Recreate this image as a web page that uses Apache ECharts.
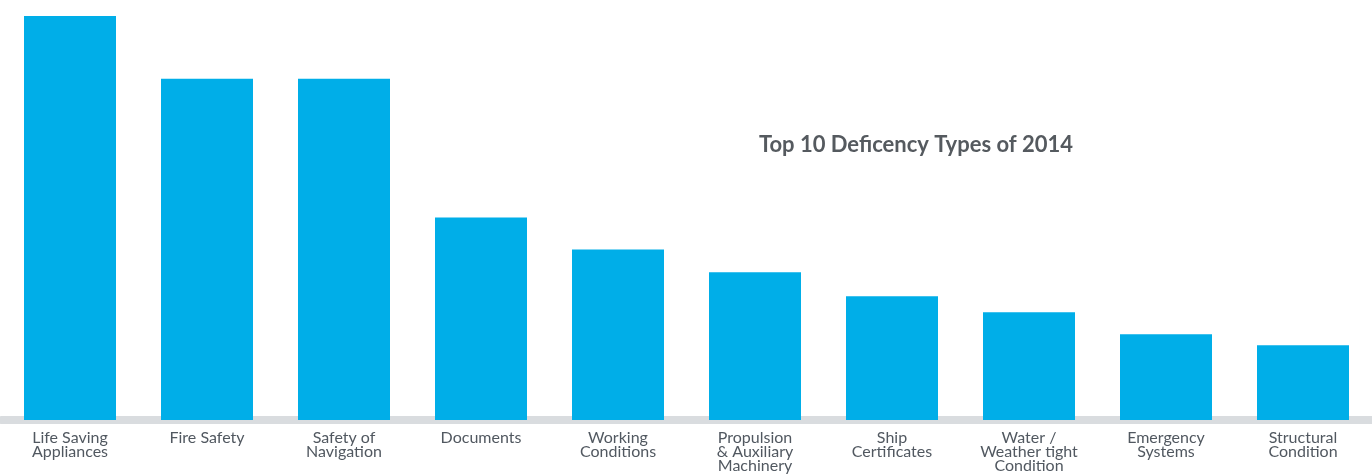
<!DOCTYPE html>
<html><head><meta charset="utf-8">
<script src="https://cdn.jsdelivr.net/npm/echarts@6/dist/echarts.min.js"></script>
<style>html,body{margin:0;padding:0;background:#fff}#c{width:1372px;height:474px}</style>
</head><body><div id="c"></div>
<script>
const categories = ['Life Saving\nAppliances','Fire Safety','Safety of\nNavigation','Documents','Working\nConditions','Propulsion\n& Auxiliary\nMachinery','Ship\nCertificates','Water /\nWeather tight\nCondition','Emergency\nSystems','Structural\nCondition'];
const values = [405, 342, 342, 203, 171, 148, 124, 108, 86, 75];
const titleText = 'Top 10 Deficency Types of 2014';

const chart = echarts.init(document.getElementById('c'));
chart.setOption({
  animation: false,
  title: {
    text: titleText, left: 911, top: 129, textAlign: 'center',
    textStyle: {fontFamily: 'Lato', fontWeight: 'bold', fontSize: 22, color: '#555a5f'}
  },
  grid: {left: 1.5, right: 0.5, top: 16, bottom: 53, containLabel: false},
  xAxis: {
    type: 'category', data: categories, offset: 4,
    axisLine: {lineStyle: {color: '#d9dcdf', width: 8}},
    axisTick: {show: false},
    axisLabel: {interval: 0, margin: 7, fontFamily: 'Lato', fontSize: 16, lineHeight: 14, color: '#515860'}
  },
  yAxis: {type: 'value', min: 0, max: 405, show: false, splitLine: {show: false}},
  series: [{type: 'bar', data: values, barWidth: 92, itemStyle: {color: '#00aee8'}}]
});
</script></body></html>
